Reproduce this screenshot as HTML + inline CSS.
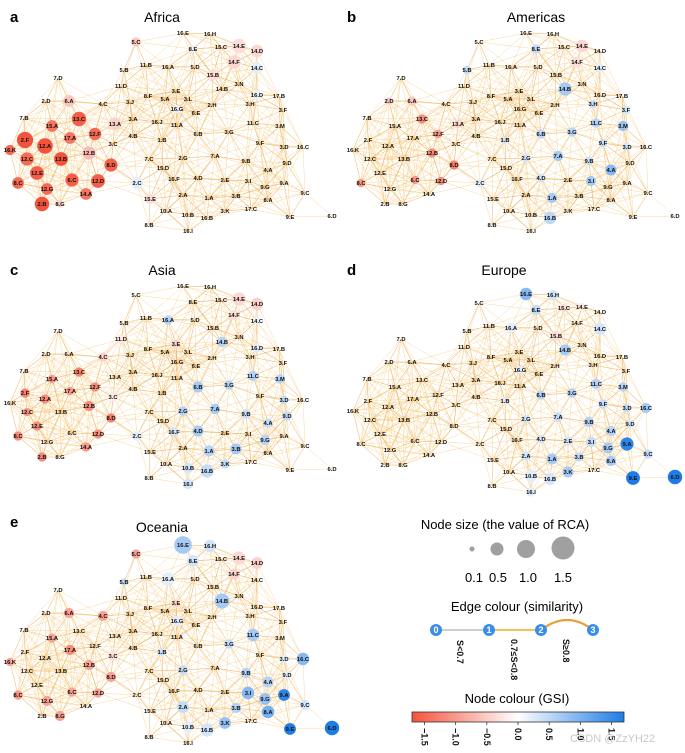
<!DOCTYPE html>
<html><head><meta charset="utf-8"><style>
html,body{margin:0;padding:0;background:#fff;}
svg{display:block;font-family:"Liberation Sans",sans-serif;}
.lbl{font-size:5.8px;font-weight:bold;fill:#111;text-anchor:middle;}
</style></head><body>
<svg id="fig" width="685" height="753" viewBox="0 0 685 753">
<g id="panels"></g>
<g id="legend">
  <text x="505" y="529" font-size="13" text-anchor="middle">Node size (the value of RCA)</text>
  <circle cx="472" cy="549" r="2.5" fill="#a0a0a0"/>
  <circle cx="497" cy="549" r="6.5" fill="#a0a0a0"/>
  <circle cx="526" cy="549" r="9" fill="#a0a0a0"/>
  <circle cx="563" cy="548" r="11.5" fill="#a0a0a0"/>
  <g font-size="13" text-anchor="middle">
    <text x="474" y="582">0.1</text><text x="498" y="582">0.5</text><text x="528" y="582">1.0</text><text x="563" y="582">1.5</text>
  </g>
  <text x="517" y="611" font-size="13" text-anchor="middle">Edge colour (similarity)</text>
  <line x1="436" y1="630" x2="489" y2="630" stroke="#cfcfcf" stroke-width="2"/>
  <line x1="489" y1="630" x2="541" y2="630" stroke="#f2c35a" stroke-width="2"/>
  <path d="M541 630 Q567 610 593 630" stroke="#e9a035" stroke-width="2.2" fill="none"/>
  <g font-size="9" font-weight="bold" fill="#fff" text-anchor="middle">
    <circle cx="436" cy="630" r="6" fill="#3a8ee6"/><text x="436" y="633">0</text>
    <circle cx="489" cy="630" r="6" fill="#3a8ee6"/><text x="489" y="633">1</text>
    <circle cx="541" cy="630" r="6" fill="#3a8ee6"/><text x="541" y="633">2</text>
    <circle cx="593" cy="630" r="6" fill="#3a8ee6"/><text x="593" y="633">3</text>
  </g>
  <g font-size="9" font-weight="bold" fill="#111">
    <text transform="translate(457,640) rotate(90)">S&lt;0.7</text>
    <text transform="translate(511,639) rotate(90)">0.7≤S&lt;0.8</text>
    <text transform="translate(563,639) rotate(90)">S≥0.8</text>
  </g>
  <text x="517" y="703" font-size="13" text-anchor="middle">Node colour (GSI)</text>
  <defs><linearGradient id="cb" x1="0" x2="1"><stop offset="0" stop-color="#f4533b"/><stop offset="0.5" stop-color="#ffffff"/><stop offset="1" stop-color="#1d7ce6"/></linearGradient></defs>
  <rect x="412" y="712" width="212" height="10" fill="url(#cb)" stroke="#333" stroke-width="0.8"/>
  <g id="cbticks" font-size="9" font-weight="bold" fill="#111"></g>
  <text x="570" y="742" font-size="11" fill="#c8c8c8">CSDN @ZzYH22</text>
</g>
</svg>
<script>
const names=["5.C","16.E","16.H","8.E","15.C","14.E","14.D","14.F","14.C","16.A","5.D","11.B","5.B","15.B","7.D","11.D","3.N","14.B","16.D","17.B","2.D","6.A","4.C","8.F","3.E","5.A","3.L","3.J","2.H","16.G","6.E","3.H","3.F","7.B","15.A","13.C","13.A","3.A","16.J","11.A","11.C","3.M","2.F","12.A","17.A","12.F","4.B","3.C","1.B","6.B","3.G","9.F","3.D","16.C","16.K","12.C","13.B","12.B","7.C","2.G","7.A","9.B","9.D","8.D","15.D","12.E","6.C","12.D","4.A","2.C","16.F","4.D","2.E","3.I","9.A","8.C","12.G","9.G","14.A","2.A","9.C","2.B","8.G","15.E","1.A","3.B","8.A","17.C","10.A","10.B","3.K","16.B","9.E","6.D","8.B","16.I"];
const layoutX=[136,183,210,193,221,239,257,234,257,168,195,146,124,213,58,121,239,222,257,279,46,69,103,148,176,165,188,130,212,177,196,250,283,24,52,79,115,133,157,177,253,280,25,45,70,95,133,113,162,198,229,260,284,303,10,27,61,89,149,183,215,246,287,111,163,37,72,98,268,137,174,198,225,248,284,18,47,265,86,183,305,42,60,150,209,236,268,251,166,188,225,207,290,332,149,188];
const layoutY=[42,33,34,49,47,46,51,62,68,67,67,65,70,75,78,86,84,89,95,96,101,101,104,96,91,99,99,102,105,109,113,104,110,118,126,119,124,119,122,125,123,126,140,146,138,134,136,144,140,134,132,143,147,147,150,159,159,153,159,158,156,161,163,165,168,173,180,181,170,183,179,178,180,181,183,183,189,187,194,195,193,204,204,199,198,196,200,209,211,215,211,218,217,216,225,231];
const regions=["Africa","Americas","Asia","Europe","Oceania"];
const panelLetters=["a","b","c","d","e"];
const africaGSI={"2.F":-1.5,"12.A":-1.5,"13.C":-1.4,"13.B":-1.5,"12.E":-1.4,"6.C":-1.4,"12.D":-1.4,"8.D":-1.4,"2.B":-1.5,"12.C":-1.3,"15.A":-1.2,"12.F":-1.3,"17.A":-1.2,"8.C":-1.3,"16.K":-1.3,"12.G":-1.3,"14.A":-1.2,"8.G":-0.4,"6.A":-0.5,"13.A":-0.4,"12.B":-0.6,"5.C":-0.5,"14.E":-0.3,"14.D":-0.35,"14.F":-0.35,"15.B":-0.3,"15.E":-0.3,"2.C":0.2,"14.C":0.2,"16.D":0.15,"8.E":0.15,"16.G":0.15};
const africaRCA={"2.F":1.5,"12.A":1.4,"13.C":1.2,"13.B":1.1,"12.E":1.1,"6.C":1.0,"12.D":1.1,"8.D":1.0,"2.B":1.2,"12.C":1.0,"15.A":0.8,"12.F":0.9,"17.A":0.8,"8.C":0.8,"16.K":0.6,"12.G":0.8,"14.A":0.8,"8.G":0.3,"6.A":0.8,"13.A":0.9,"12.B":1.0,"5.C":0.5,"14.E":1.2,"14.D":0.9,"14.F":1.0,"15.B":0.7,"15.E":0.6,"2.C":0.8,"14.C":0.7,"16.D":0.5,"8.E":0.3,"16.G":0.4};
const americasGSI={"13.C":-1.0,"12.F":-0.9,"12.B":-1.0,"8.D":-1.1,"12.D":-1.0,"6.C":-0.9,"8.C":-0.9,"6.A":-0.5,"2.D":-0.5,"13.A":-0.4,"14.E":-0.35,"14.F":-0.3,"14.B":0.6,"5.B":0.4,"8.E":0.4,"3.M":0.7,"11.C":0.5,"3.F":0.3,"3.H":0.35,"4.A":0.8,"3.I":0.6,"1.A":0.6,"16.B":0.45,"7.A":0.6,"6.B":0.45,"3.G":0.45,"9.F":0.4,"9.B":0.35,"2.G":0.3,"3.D":0.3,"1.B":0.3,"2.C":0.2,"14.C":0.2,"4.D":0.3};
const americasRCA={"13.C":0.5,"12.F":0.4,"12.B":0.5,"8.D":0.5,"12.D":0.4,"6.C":0.4,"8.C":0.4,"6.A":0.5,"2.D":0.3,"13.A":0.4,"14.E":0.9,"14.F":0.7,"14.B":1.0,"5.B":0.4,"8.E":0.5,"3.M":0.6,"11.C":0.5,"3.F":0.4,"3.H":0.4,"4.A":0.7,"3.I":0.6,"1.A":0.6,"16.B":0.9,"7.A":0.6,"6.B":0.5,"3.G":0.5,"9.F":0.4,"9.B":0.4,"2.G":0.4,"3.D":0.4,"1.B":0.3,"2.C":0.4,"14.C":0.4,"4.D":0.4};
const asiaGSI={"13.C":-1.1,"2.F":-1.1,"12.A":-1.0,"12.B":-1.0,"12.F":-1.0,"8.D":-1.1,"12.E":-1.0,"12.D":-1.0,"8.C":-1.0,"2.B":-1.0,"14.A":-0.9,"12.C":-0.9,"15.A":-0.9,"17.A":-0.9,"14.E":-0.35,"14.D":-0.4,"14.F":-0.3,"4.C":-0.4,"11.D":-0.2,"3.C":-0.2,"3.E":-0.4,"14.B":0.5,"16.A":0.5,"6.B":0.6,"11.C":0.5,"3.M":0.5,"3.G":0.5,"7.A":0.6,"2.G":0.5,"4.D":0.6,"1.A":0.5,"3.B":0.6,"16.B":0.4,"3.K":0.4,"9.G":0.5,"9.B":0.4,"9.D":0.4,"3.D":0.4,"4.A":0.4,"16.F":0.3,"10.B":0.3,"16.I":0.3,"2.C":0.2,"16.D":0.2,"14.C":0.1};
const asiaRCA={"13.C":0.5,"2.F":0.5,"12.A":0.5,"12.B":0.6,"12.F":0.5,"8.D":0.5,"12.E":0.5,"12.D":0.5,"8.C":0.5,"2.B":0.5,"14.A":0.5,"12.C":0.4,"15.A":0.4,"17.A":0.4,"14.E":1.0,"14.D":0.9,"14.F":0.6,"4.C":0.5,"11.D":0.5,"3.C":0.5,"3.E":0.4,"14.B":0.6,"16.A":0.5,"6.B":0.7,"11.C":0.6,"3.M":0.5,"3.G":0.5,"7.A":0.6,"2.G":0.5,"4.D":0.7,"1.A":0.7,"3.B":0.7,"16.B":1.0,"3.K":0.5,"9.G":0.6,"9.B":0.5,"9.D":0.5,"3.D":0.4,"4.A":0.5,"16.F":0.5,"10.B":0.6,"16.I":0.6,"2.C":0.5,"16.D":0.5,"14.C":0.3};
const europeGSI={"16.E":0.8,"16.H":0.3,"8.E":0.4,"16.A":0.2,"14.C":0.3,"14.B":0.6,"11.C":0.5,"3.M":0.5,"3.G":0.5,"6.B":0.5,"16.C":0.6,"9.F":0.4,"3.D":0.4,"9.B":0.5,"9.D":0.3,"4.A":0.5,"9.A":1.4,"9.G":0.6,"3.I":0.4,"8.A":0.6,"9.C":0.4,"9.E":1.5,"6.D":1.5,"1.A":0.6,"3.B":0.4,"3.K":0.6,"16.B":0.3,"10.B":0.2,"2.A":0.3,"2.E":0.3,"2.G":0.3,"4.D":0.3,"7.A":0.4,"16.G":0.2,"16.I":0.2,"1.B":0.2,"15.C":-0.3,"15.B":-0.3,"14.E":-0.2};
const europeRCA={"16.E":0.9,"16.H":0.6,"8.E":0.6,"16.A":0.6,"14.C":0.8,"14.B":0.7,"11.C":0.6,"3.M":0.5,"3.G":0.5,"6.B":0.5,"16.C":0.6,"9.F":0.5,"3.D":0.4,"9.B":0.6,"9.D":0.4,"4.A":0.6,"9.A":1.0,"9.G":0.7,"3.I":0.6,"8.A":0.6,"9.C":0.5,"9.E":1.1,"6.D":1.2,"1.A":0.7,"3.B":0.5,"3.K":0.7,"16.B":0.8,"10.B":0.9,"2.A":0.5,"2.E":0.5,"2.G":0.4,"4.D":0.4,"7.A":0.5,"16.G":0.4,"16.I":0.5,"1.B":0.3,"15.C":0.4,"15.B":0.6,"14.E":0.4};
const oceaniaGSI={"5.C":-0.8,"6.A":-0.8,"4.C":-0.8,"15.A":-0.8,"17.A":-1.0,"12.B":-0.8,"8.D":-0.8,"16.K":-0.8,"8.C":-0.9,"6.C":-0.8,"12.D":-0.8,"12.G":-0.8,"8.G":-0.8,"3.C":-0.3,"14.E":-0.35,"14.D":-0.4,"14.F":-0.4,"3.E":-0.4,"16.E":0.6,"16.H":0.3,"8.E":0.3,"16.A":0.2,"5.B":0.4,"14.B":0.6,"11.C":0.6,"3.G":0.4,"16.C":0.8,"9.B":0.5,"4.A":0.5,"3.I":0.8,"9.A":1.4,"9.G":0.7,"8.A":0.9,"9.C":0.3,"9.E":1.5,"6.D":1.5,"3.B":0.5,"3.K":0.7,"16.B":0.3,"10.B":0.2,"2.A":0.4,"2.G":0.4,"1.B":0.3,"16.G":0.2,"3.D":0.2,"9.D":0.2};
const oceaniaRCA={"5.C":0.5,"6.A":0.6,"4.C":0.6,"15.A":0.5,"17.A":0.6,"12.B":0.6,"8.D":0.6,"16.K":0.4,"8.C":0.5,"6.C":0.5,"12.D":0.5,"12.G":0.6,"8.G":0.6,"3.C":0.6,"14.E":1.0,"14.D":0.8,"14.F":0.7,"3.E":0.3,"16.E":1.8,"16.H":0.9,"8.E":0.8,"16.A":1.0,"5.B":0.3,"14.B":1.3,"11.C":0.9,"3.G":0.5,"16.C":0.9,"9.B":0.6,"4.A":0.7,"3.I":0.9,"9.A":0.8,"9.G":0.8,"8.A":0.9,"9.C":0.6,"9.E":0.8,"6.D":1.2,"3.B":0.6,"3.K":0.8,"16.B":1.0,"10.B":0.7,"2.A":0.8,"2.G":0.5,"1.B":0.4,"16.G":0.6,"3.D":0.4,"9.D":0.4};
const gsiSets=[africaGSI,americasGSI,asiaGSI,europeGSI,oceaniaGSI];
const rcaSets=[africaRCA,americasRCA,asiaRCA,europeRCA,oceaniaRCA];
const offX=[0,343,0,343,0], offY=[0,0,253,261,512];
const titleX=[162,536,162,504,162], titleY=[22,22,275,275,532];
const letterX=[10,347,10,347,10], letterY=[22,22,275,275,527];
const cbTicks=[-1.5,-1.0,-0.5,0.0,0.5,1.0,1.5];

const NS="http://www.w3.org/2000/svg";
function mk(t,a){const e=document.createElementNS(NS,t);for(const k in a)e.setAttribute(k,a[k]);return e;}
function gsiColor(v){
  v=Math.max(-1.5,Math.min(1.5,v));const t=Math.abs(v)/1.5;
  const c=v<0?[244,83,59]:[29,124,230];
  const m=i=>Math.round(255+(c[i]-255)*t);
  return `rgb(${m(0)},${m(1)},${m(2)})`;
}
function rScale(r){return 6.6*Math.sqrt(r);}
const edges=[];
for(let i=0;i<names.length;i++)for(let j=i+1;j<names.length;j++){
  const dx=layoutX[i]-layoutX[j],dy=layoutY[i]-layoutY[j],d=Math.hypot(dx,dy);
  const left=layoutX[i]<105&&layoutX[j]<105;
  if(d<(left?70:58)) edges.push([i,j,d]);
}
const panels=document.getElementById('panels');
regions.forEach((reg,p)=>{
  const g=mk('g',{transform:`translate(${offX[p]},${offY[p]})`});
  
  
  const eg=mk('g',{});
  
  
  edges.forEach(([i,j,d])=>{
    const strong=d<35;
    const l=mk('line',{x1:layoutX[i],y1:layoutY[i],x2:layoutX[j],y2:layoutY[j],stroke:strong?'#ee9f38':'#f3c062','stroke-width':strong?0.65:0.5,'stroke-opacity':0.6});
    eg.appendChild(l);
  });
  g.appendChild(eg);
  const gs=gsiSets[p],rs=rcaSets[p];
  names.forEach((n,i)=>{
    if(gs[n]!==undefined){
      const c=mk('circle',{cx:layoutX[i],cy:layoutY[i],r:rScale(rs[n]||0.3),fill:gsiColor(gs[n])});
      
      
      g.appendChild(c);
    }
  });
  names.forEach((n,i)=>{
    const t=mk('text',{x:layoutX[i],y:layoutY[i]+2,class:'lbl'});
    t.textContent=n;
    
    
    g.appendChild(t);
  });
  panels.appendChild(g);
  const tt=mk('text',{x:titleX[p],y:titleY[p],'font-size':14,'text-anchor':'middle'});
  tt.textContent=reg;
  
  
  panels.appendChild(tt);
  const lt=mk('text',{x:letterX[p],y:letterY[p],'font-size':15,'font-weight':'bold'});
  lt.textContent=panelLetters[p];
  
  
  panels.appendChild(lt);
});
const cbg=document.getElementById('cbticks');
cbTicks.forEach(v=>{
  const x=412+(v+1.7)/3.4*212;
  const tk=mk('line',{x1:x,y1:722,x2:x,y2:725,stroke:'#333','stroke-width':0.8});
  cbg.appendChild(tk);
  const t=mk('text',{transform:`translate(${x-3},728) rotate(90)`});
  t.textContent=(v<0?'−':'')+Math.abs(v).toFixed(1);
  
  
  cbg.appendChild(t);
});
</script>
</body></html>
